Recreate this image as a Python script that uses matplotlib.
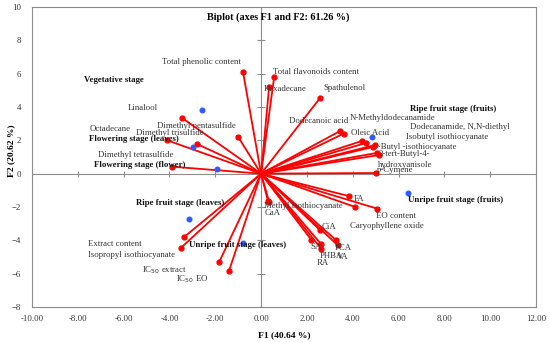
import matplotlib.pyplot as plt

# variables (red vectors)
var_names = ["Total phenolic content", "Total flavonoids content", "Hexadecane", "Spathulenol",
             "Linalool", "Dimethyl pentasulfide", "Octadecane", "Dimethyl trisulfide",
             "Dimethyl tetrasulfide", "Dodecanoic acid", "N-Methyldodecanamide", "Oleic Acid",
             "Dodecanamide, N,N-diethyl", "Isobutyl isothiocyanate", "\u00b7\u00b7Butyl -isothiocyanate",
             "3-tert-Butyl-4-\nhydroxyanisole", "sec", "p-Cymene", "FA", "Caryophyllene oxide",
             "EO content", "Methyl isothiocyanate", "CaA", "CiA", "SA", "RA", "PHBA", "PCA", "VA",
             "Extract content", "Isopropyl isothiocyanate", "IC$_{50}$ extract", "IC$_{50}$ EO"]
var_x = [-0.79, 0.57, 0.35, 2.58, -3.45, -1.0, -4.1, -2.8, -3.9, 3.45, 3.6, 4.4, 4.6, 4.98, 4.88,
         5.07, 5.15, 5.0, 3.84, 4.1, 5.07, 0.35, 0.3, 2.58, 2.18, 2.6, 2.62, 3.28, 3.35,
         -3.36, -3.49, -1.83, -1.4]
var_y = [6.1, 5.8, 5.2, 4.55, 3.34, 2.2, 2.0, 1.78, 0.42, 2.56, 2.4, 1.96, 1.85, 1.72, 1.6,
         1.25, 1.12, 0.04, -1.35, -2.0, -2.1, -1.7, -1.65, -3.4, -3.95, -4.2, -4.5, -4.0, -4.3,
         -3.8, -4.44, -5.3, -5.84]

# observations (blue points)
obs_names = ["Vegetative stage", "Flowering stage (leaves)", "Flowering stage (flower)",
             "Ripe fruit stage (fruits)", "Unripe fruit stage (fruits)",
             "Ripe fruit stage (leaves)", "Unripe fruit stage (leaves)"]
obs_x = [-2.58, -2.97, -1.92, 4.85, 6.42, -3.14, -0.79]
obs_y = [3.82, 1.6, 0.28, 2.2, -1.15, -2.7, -4.16]

# label anchors (layout, data coords, left aligned)
var_lab = {
    "Total phenolic content": (-4.32, 6.7), "Total flavonoids content": (0.5, 6.1),
    "Hexadecane": (0.13, 5.08), "Spathulenol": (2.7, 5.13), "Linalool": (-5.8, 3.95),
    "Dimethyl pentasulfide": (-4.54, 2.88), "Octadecane": (-7.47, 2.68),
    "Dimethyl trisulfide": (-5.46, 2.43), "Dimethyl tetrasulfide": (-7.1, 1.1),
    "Dodecanoic acid": (1.22, 3.17), "N-Methyldodecanamide": (3.89, 3.33),
    "Oleic Acid": (3.93, 2.44), "Dodecanamide, N,N-diethyl": (6.5, 2.8),
    "Isobutyl isothiocyanate": (6.33, 2.2), "\u00b7\u00b7Butyl -isothiocyanate": (4.98, 1.6),
    "3-tert-Butyl-4-\nhydroxyanisole": (5.12, 0.85), "p-Cymene": (5.07, 0.2),
    "FA": (4.06, -1.5), "Caryophyllene oxide": (3.89, -3.13), "EO content": (5.0, -2.55),
    "Methyl isothiocyanate": (0.12, -1.95), "CaA": (0.17, -2.37), "CiA": (2.66, -3.2),
    "SA": (2.14, -4.4), "RA": (2.45, -5.37), "PHBA": (2.58, -4.95), "PCA": (3.23, -4.45),
    "VA": (3.32, -5.0), "Extract content": (-7.55, -4.2),
    "Isopropyl isothiocyanate": (-7.55, -4.88), "IC$_{50}$ extract": (-5.2, -5.8),
    "IC$_{50}$ EO": (-3.71, -6.33),
}
obs_lab = [(-7.73, 5.6), (-7.5, 2.07), (-7.3, 0.52), (6.5, 3.87), (6.42, -1.57),
           (-5.46, -1.77), (-3.14, -4.3)]

plt.rcParams['font.family'] = ['Liberation Serif', 'DejaVu Serif']
fs = 6.3

fig = plt.figure(figsize=(5.5, 3.42), dpi=100)
ax = fig.add_axes([32 / 550, 1 - 307 / 342, 504 / 550, 300 / 342])
ax.set_xlim(-10, 12)
ax.set_ylim(-8, 10)

grey = '#8c8c8c'
ax.axhline(0, color=grey, lw=0.8, zorder=1)
ax.axvline(0, color=grey, lw=0.8, zorder=1)
xt = [-10, -8, -6, -4, -2, 0, 2, 4, 6, 8, 10, 12]
yt = [-8, -6, -4, -2, 0, 2, 4, 6, 8, 10]
ax.plot(xt, [0] * len(xt), ls='none', marker='|', ms=5, mew=0.8, color=grey, zorder=1)
ax.plot([0] * len(yt), yt, ls='none', marker='_', ms=6, mew=0.8, color=grey, zorder=1)

for x, y in zip(var_x, var_y):
    ax.plot([0, x], [0, y], color='red', lw=1.3, zorder=2)
ax.plot(var_x, var_y, 'o', color='red', ms=3.5, zorder=3)
ax.plot(obs_x, obs_y, 'o', color='#2f5bff', ms=3.3, zorder=4)

for name, (lx, ly) in var_lab.items():
    ax.text(lx, ly, name, fontsize=fs, color='#333333', va='center', ha='left', zorder=5,
            linespacing=1.6)
for name, (lx, ly) in zip(obs_names, obs_lab):
    ax.text(lx, ly, name, fontsize=fs, fontweight='bold', color='#111111', va='center',
            ha='left', zorder=5)

ax.text(0.74, 9.4, "Biplot (axes F1 and F2: 61.26 %)", fontsize=7.3, fontweight='bold',
        ha='center', va='center')

ax.set_xticks(xt)
ax.set_xticklabels(["%.2f" % v for v in xt])
ax.set_yticks(yt)
ax.tick_params(axis='x', length=0, labelsize=fs, colors='#333333', pad=6)
ax.tick_params(axis='y', length=0, labelsize=fs, colors='#333333', pad=8)
for s in ax.spines.values():
    s.set_color(grey)
    s.set_linewidth(0.8)
ax.set_xlabel("F1 (40.64 %)", fontsize=6.8, fontweight='bold', labelpad=6)
ax.set_ylabel("F2 (20.62 %)", fontsize=6.8, fontweight='bold')
ax.yaxis.set_label_coords(-0.033, 0.52)

fig.savefig("out.png", dpi=100)
